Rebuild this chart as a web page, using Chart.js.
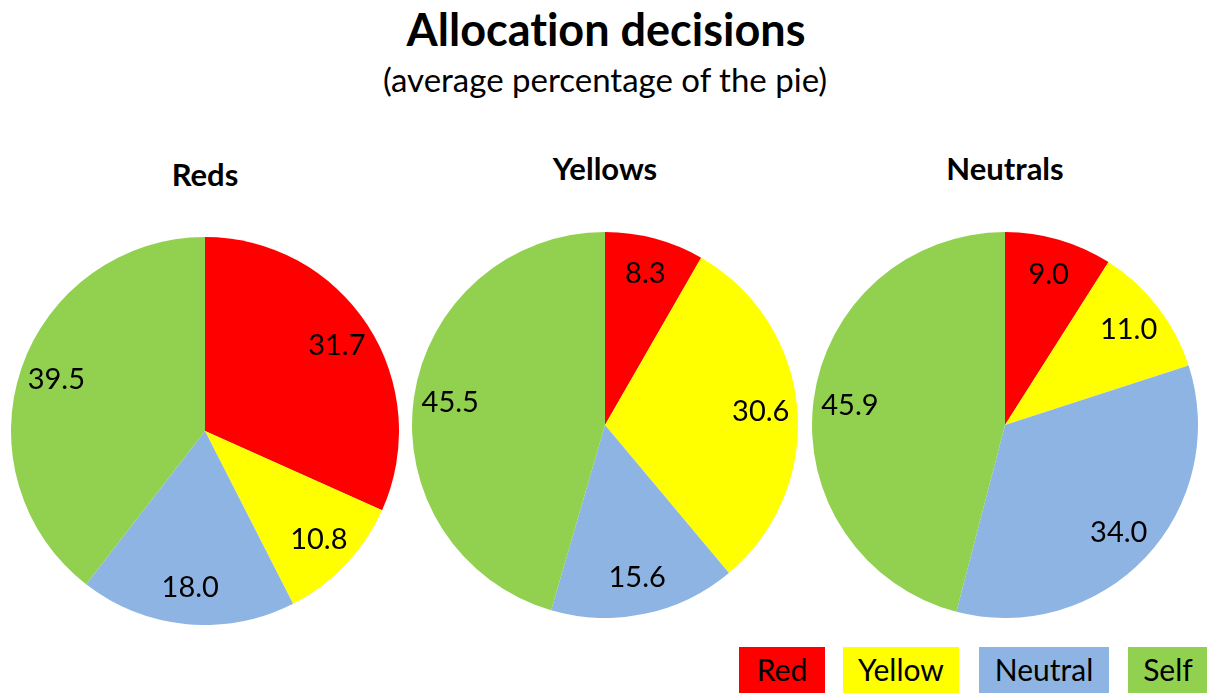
<!DOCTYPE html>
<html>
<head>
<meta charset="utf-8">
<script src="https://cdn.jsdelivr.net/npm/chart.js@4"></script>
<style>
  html, body { margin: 0; padding: 0; background: #fff; }
  body { width: 1207px; height: 693px; position: relative; overflow: hidden; font-family: Lato, "Open Sans", sans-serif; color: #000; font-variant-ligatures: none; }
  .txt { position: absolute; transform: translate(-50%, -50%); white-space: nowrap; line-height: 1; }
  .title { font-weight: bold; font-size: 45px; }
  .subtitle { font-size: 33px; }
  .ptitle { font-weight: bold; font-size: 31px; }
  .pie { position: absolute; }
  .key { position: absolute; top: 647px; height: 50px; font-size: 30px; line-height: 44px; text-align: center; }
</style>
</head>
<body>
<div class="txt title" style="left:606px; top:29px;">Allocation decisions</div>
<div class="txt subtitle" style="left:605px; top:79px;">(average percentage of the pie)</div>

<div class="txt ptitle" id="t0" style="left:205px; top:174px;"></div>
<div class="txt ptitle" id="t1" style="left:605px; top:168px;"></div>
<div class="txt ptitle" id="t2" style="left:1005px; top:168px;"></div>

<div class="pie" style="left:11px; top:237px; width:388px; height:388px;"><canvas id="c0"></canvas></div>
<div class="pie" style="left:412px; top:232px; width:386px; height:386px;"><canvas id="c1"></canvas></div>
<div class="pie" style="left:812px; top:232px; width:386px; height:386px;"><canvas id="c2"></canvas></div>

<div id="legend"></div>

<script>
// Recipient categories, in slice order (clockwise from 12 o'clock)
const categories = ["Red", "Yellow", "Neutral", "Self"];
const sliceColors = ["#FF0000", "#FFFF00", "#8EB4E3", "#92D050"];

// Allocating groups
const groups = ["Reds", "Yellows", "Neutrals"];

// Average percentage of the pie given to each category
const redsValues     = [31.7, 10.8, 18.0, 39.5];
const yellowsValues  = [8.3, 30.6, 15.6, 45.5];
const neutralsValues = [9.0, 11.0, 34.0, 45.9];

const allValues = [redsValues, yellowsValues, neutralsValues];

// Writes each slice's value inside the slice, near the rim
const sliceLabels = {
  id: "sliceLabels",
  afterDatasetsDraw(chart) {
    const ctx = chart.ctx;
    const meta = chart.getDatasetMeta(0);
    const data = chart.data.datasets[0].data;
    ctx.save();
    ctx.font = "29px Lato, 'Open Sans', sans-serif";
    ctx.fillStyle = "#000";
    ctx.textAlign = "center";
    ctx.textBaseline = "middle";
    meta.data.forEach((arc, i) => {
      const p = arc.getProps(["x", "y", "startAngle", "endAngle", "outerRadius"], true);
      const mid = (p.startAngle + p.endAngle) / 2;
      const r = p.outerRadius * 0.81;
      ctx.fillText(data[i].toFixed(1), p.x + Math.cos(mid) * r, p.y + Math.sin(mid) * r);
    });
    ctx.restore();
  }
};

groups.forEach((g, k) => {
  document.getElementById("t" + k).textContent = g;
  new Chart(document.getElementById("c" + k), {
    type: "pie",
    data: {
      labels: categories,
      datasets: [{
        data: allValues[k],
        backgroundColor: sliceColors,
        borderWidth: 0
      }]
    },
    options: {
      responsive: true,
      maintainAspectRatio: false,
      animation: false,
      layout: { padding: 0 },
      plugins: {
        legend: { display: false },
        tooltip: { enabled: false },
        title: { display: false }
      }
    },
    plugins: [sliceLabels]
  });
});

// Colour key in the bottom-right corner
const keyBoxes = [
  { left: 739, width: 86 },
  { left: 843, width: 116 },
  { left: 979, width: 130 },
  { left: 1128, width: 80 }
];
const legend = document.getElementById("legend");
categories.forEach((c, i) => {
  const d = document.createElement("div");
  d.className = "key";
  d.style.left = keyBoxes[i].left + "px";
  d.style.width = keyBoxes[i].width + "px";
  d.style.background = sliceColors[i];
  d.textContent = c;
  legend.appendChild(d);
});
</script>
</body>
</html>
